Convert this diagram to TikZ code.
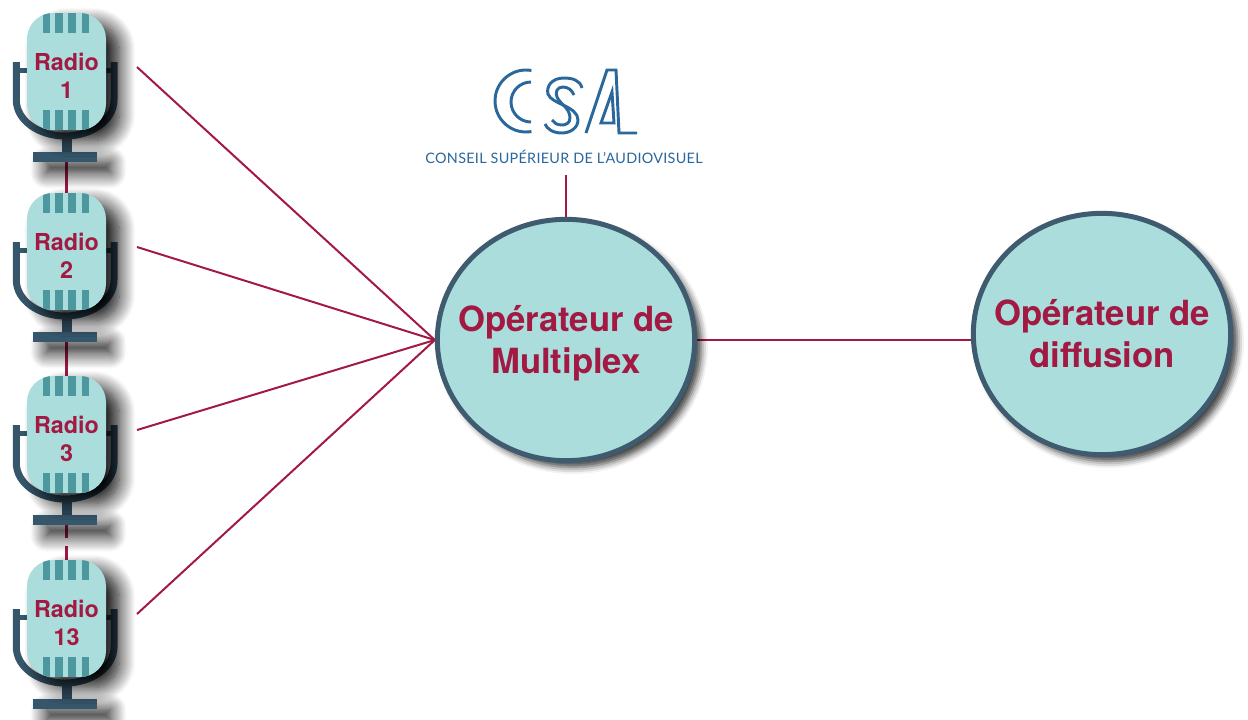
\documentclass[tikz,border=0pt]{standalone}
\usepackage{fontspec}
\setmainfont{TeX Gyre Heros}
\newfontfamily\csafont[LetterSpace=2]{Lato}
\usetikzlibrary{shapes.geometric,shadows.blur,backgrounds}

\definecolor{crimson}{HTML}{A21A43}
\definecolor{capsule}{HTML}{AADDDB}
\definecolor{stand}{HTML}{36566B}
\definecolor{stripe}{HTML}{4C989E}
\definecolor{csablue}{HTML}{2A679B}
\definecolor{ringline}{HTML}{3F5B6F}

\tikzset{
  opbubble/.style={ellipse, draw=ringline, line width=3.75pt, fill=capsule, minimum width=193pt, minimum height=181pt, inner xsep=-14pt, inner ysep=0pt, align=center, text=crimson, font=\fontsize{26}{31.5}\selectfont\bfseries, blur shadow={shadow xshift=5pt, shadow yshift=-5pt, shadow blur radius=5pt, shadow opacity=75}},
  wire/.style={draw=crimson, line width=1.5pt},
  miclabel/.style={align=center, text=crimson, font=\fontsize{17.5}{21}\selectfont\bfseries, inner sep=0pt},
  micshadow/.style={blur shadow={shadow xshift=10pt, shadow yshift=-8pt, shadow blur radius=12pt, shadow blur steps=16, shadow opacity=95}},
}

\begin{document}
\begin{tikzpicture}[x=0.75pt,y=0.75pt,yscale=-1,xscale=1]
\useasboundingbox (0,0) rectangle (1248,719);

%Microphones [Radio 1, 2, 3, 13]
\foreach \i/\lab/\dy in {1/1/0,2/2/180,3/3/363,4/13/547}{
\begin{scope}[shift={(0,\dy)}]
%Holder
\draw[stand, line width=5.25pt] (16.3,62) -- (16.3,100) arc[start angle=180, end angle=0, x radius=48.85, y radius=36] -- (114,62);
\draw[stand, line width=3.75pt] (16.3,70.5) -- (32,70.5) (100,70.5) -- (114,70.5);
%Stem and base
\fill[stand] (62,134) rectangle (72,153);
\fill[stand, micshadow] (33,152) rectangle (97,162);
%Capsule
\fill[capsule, micshadow, rounded corners=19.5pt] (27,13) rectangle (106,130);
\begin{scope}
\clip[rounded corners=19.5pt] (27,13) rectangle (106,130);
\foreach \sx in {42.7,55.2,68.3,81.7}{
\fill[stripe] (\sx,13) rectangle ++(7.3,20);
\fill[stripe] (\sx,110) rectangle ++(7.3,20);
}
\end{scope}
% Text Node
\node[miclabel] (radio\i) at (66.5,76) {Radio\\\lab};
\coordinate (out\i) at (137,67);
\coordinate (top\i) at (66.5,13);
\coordinate (base\i) at (66.5,162);
\end{scope}
}

%CSA logo
\begin{scope}[csablue, line width=2.2pt]
\draw (526,101) ++(-80:31) arc[start angle=-80, end angle=-280, radius=31];
\draw (531,102) ++(-90:20) arc[start angle=-90, end angle=-270, radius=20];
\draw (582,88) .. controls (580,80) and (572,78) .. (564,78) .. controls (552,78) and (546,86) .. (548,94) .. controls (551,104) and (578,106) .. (578,120) .. controls (578,128) and (570,133) .. (562,133) .. controls (553,133) and (547,129) .. (545,124);
\draw (574,95) .. controls (572,90) and (568,87) .. (563,87) .. controls (557,87) and (555,92) .. (557,97) .. controls (560,104) and (570,108) .. (570,118) .. controls (570,123) and (566,125) .. (562,125) .. controls (557,125) and (554,123) .. (552,120);
\draw (586,133) -- (607,70) -- (616,70) -- (619,133) -- (637,133);
\draw (601,123) -- (612,92) -- (614,123) -- cycle;
\end{scope}
% Text Node
\node[font=\csafont\fontsize{10.8}{12}\selectfont, text=csablue, inner sep=0pt] (csa) at (564,157) {CONSEIL SUPÉRIEUR DE L’AUDIOVISUEL};
\coordinate (csafoot) at (566,175);

%Operators
\node[opbubble] (mux) at (566,340) {\rule{0pt}{25pt}Opérateur de\\Multiplex};
\node[opbubble] (diff) at (1102,334) {Opérateur de\\diffusion};

%Connectors
\begin{scope}[on background layer]
\foreach \i in {1,...,4}{
\draw[wire] (out\i) -- (mux.west);
}
\draw[wire, line width=1.9pt] (base1) -- (top2) (base2) -- (top3);
\draw[wire, line width=1.9pt, dash pattern=on 10pt off 6pt] (base3) -- (top4);
\draw[wire] (csafoot) -- (mux.north);
\draw[wire] (mux.east) -- (mux.east -| diff.west);
\end{scope}

\end{tikzpicture}
\end{document}
